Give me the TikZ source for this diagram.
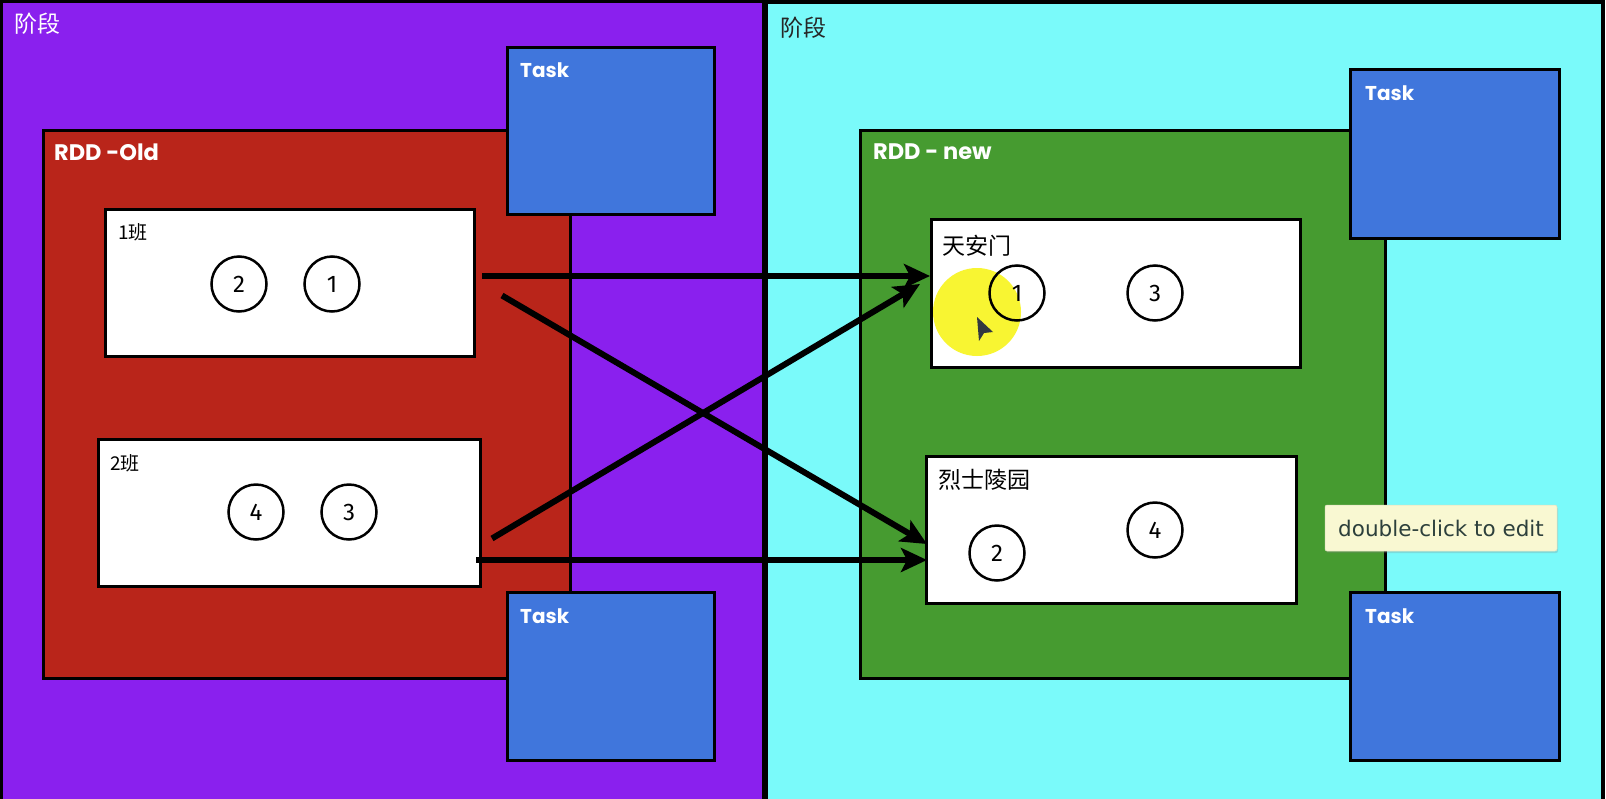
\documentclass[tikz,border=0pt]{standalone}
\usepackage{fontspec}
\newfontfamily\cjk{Noto Sans CJK SC}
\newfontfamily\lab{Poppins}
\newfontfamily\numf{Fira Sans}
\newfontfamily\tipf{DejaVu Sans}
\usetikzlibrary{arrows.meta,shadows}
\definecolor{stagepurple}{RGB}{138,32,238}
\definecolor{stagecyan}{RGB}{122,250,250}
\definecolor{rddred}{RGB}{185,37,26}
\definecolor{rddgreen}{RGB}{70,155,48}
\definecolor{taskblue}{RGB}{64,118,220}
\definecolor{tipyellow}{RGB}{249,248,210}
\definecolor{tiptext}{RGB}{45,64,60}
\definecolor{hilite}{RGB}{248,245,50}
\definecolor{cursorgray}{RGB}{50,56,64}
\tikzset{
  frame/.style={draw=black, line width=3pt, inner sep=0pt, outer sep=0pt, rectangle},
  stagebox/.style={frame, line width=4pt},
  taskbox/.style={frame, fill=taskblue},
  classbox/.style={frame, fill=white},
  num/.style={circle, draw=black, line width=2.5pt, minimum size=55pt, inner sep=0pt,
    font=\numf\fontsize{24}{26}\selectfont},
  wlbl/.style={anchor=west, inner sep=0pt, text=white},
  blbl/.style={anchor=west, inner sep=0pt, text=black},
  cjklbl/.style={font=\cjk\fontsize{23}{25}\selectfont},
  latlbl/.style={font=\lab\bfseries\fontsize{20}{24}\selectfont},
  rddlbl/.style={font=\lab\bfseries\fontsize{22.5}{26}\selectfont},
  arr/.style={line width=6pt, -{Stealth[length=26pt,width=24pt,inset=6pt]}},
  tipbox/.style={rectangle, rounded corners=2pt, fill=tipyellow, draw=tipyellow!80!gray,
    line width=0.5pt, minimum width=232pt, minimum height=46pt, inner sep=0pt,
    text=tiptext, font=\tipf\fontsize{21.5}{24}\selectfont,
    drop shadow={shadow xshift=1pt, shadow yshift=-2pt, opacity=0.25}}
}
\begin{document}
\begin{tikzpicture}[x=1pt,y=-1pt]
\useasboundingbox (0,0) rectangle (1606,798);
\clip (0,0) rectangle (1606,798);
% stages
\node[stagebox, fill=stagepurple, minimum width=763pt, minimum height=820pt] (s1) at (382.5,411) {};
\node[stagebox, fill=stagecyan, minimum width=837pt, minimum height=820pt] (s2) at (1184.5,412) {};
% RDDs
\node[frame, fill=rddred, minimum width=527pt, minimum height=548pt] (rold) at (306.5,404) {};
\node[frame, fill=rddgreen, minimum width=525pt, minimum height=548pt] (rnew) at (1122.5,404) {};
% tasks
\node[taskbox, minimum width=207pt, minimum height=167pt] (tk1) at (610.5,130.5) {};
\node[taskbox, minimum width=207pt, minimum height=168pt] (tk2) at (610.5,676) {};
\node[taskbox, minimum width=209pt, minimum height=169pt] (tk3) at (1454.5,153.5) {};
\node[taskbox, minimum width=209pt, minimum height=168pt] (tk4) at (1454.5,676) {};
% partition boxes
\node[classbox, minimum width=369pt, minimum height=147pt] (b1) at (289.5,282.5) {};
\node[classbox, minimum width=382pt, minimum height=147pt] (b2) at (289,512.5) {};
\node[classbox, minimum width=369pt, minimum height=148pt] (b3) at (1115.5,293) {};
\node[classbox, minimum width=370pt, minimum height=147pt] (b4) at (1111,529.5) {};
% labels
\node[wlbl, cjklbl] (l1) at (14,24) {阶段};
\node[blbl, cjklbl, text=black!85] (l2) at (780,28) {阶段};
\node[wlbl, rddlbl] (l3) at (54,152) {RDD -Old};
\node[wlbl, rddlbl] (l4) at (873,152) {RDD - new};
\node[wlbl, latlbl] (l5) at (520,70) {Task};
\node[wlbl, latlbl] (l6) at (520,616) {Task};
\node[wlbl, latlbl] (l7) at (1365,93) {Task};
\node[wlbl, latlbl] (l8) at (1365,616) {Task};
\node[blbl, font=\cjk\fontsize{19}{22}\selectfont] (l9) at (118,232) {1班};
\node[blbl, font=\cjk\fontsize{19}{22}\selectfont] (l10) at (110,463) {2班};
\node[blbl, cjklbl] (l11) at (942,246) {天安门};
\node[blbl, cjklbl] (l12) at (938,480) {烈士陵园};
% highlight, kept inside the box
\begin{scope}
\clip (b3.north west) rectangle (b3.south east);
\node[circle, fill=hilite, minimum size=88pt, inner sep=0pt] (hl) at (977,312) {};
\end{scope}
\draw[line width=3pt] (b3.north west) rectangle (b3.south east);
% records
\node[num] (c1) at (239,284) {2};
\node[num] (c2) at (332,284) {1};
\node[num] (c3) at (256,512) {4};
\node[num] (c4) at (349,512) {3};
\node[num] (c5) at (1017,293) {1};
\node[num] (c6) at (1155,293) {3};
\node[num] (c7) at (997,553) {2};
\node[num] (c8) at (1155,530) {4};
% shuffle arrows
\draw[arr] ([xshift=8pt,yshift=6.5pt]b1.east) -- ([xshift=-1pt,yshift=17pt]b3.west);
\draw[arr] ([xshift=28pt,yshift=-13pt]b1.east) -- ([xshift=1pt,yshift=-14.5pt]b4.west);
\draw[arr] ([xshift=12pt,yshift=-26pt]b2.east) -- ([xshift=-11pt,yshift=9pt]b3.west);
\draw[arr] ([xshift=-4pt,yshift=-47.5pt]b2.east) -- ([xshift=1pt,yshift=-30.5pt]b4.west);
% cursor
\fill[cursorgray] (977,317) -- (993,332) -- (984,333) -- (979,341) -- cycle;
% tooltip
\node[tipbox] (tip) at (1441,528) {double-click to edit};
\end{tikzpicture}
\end{document}
